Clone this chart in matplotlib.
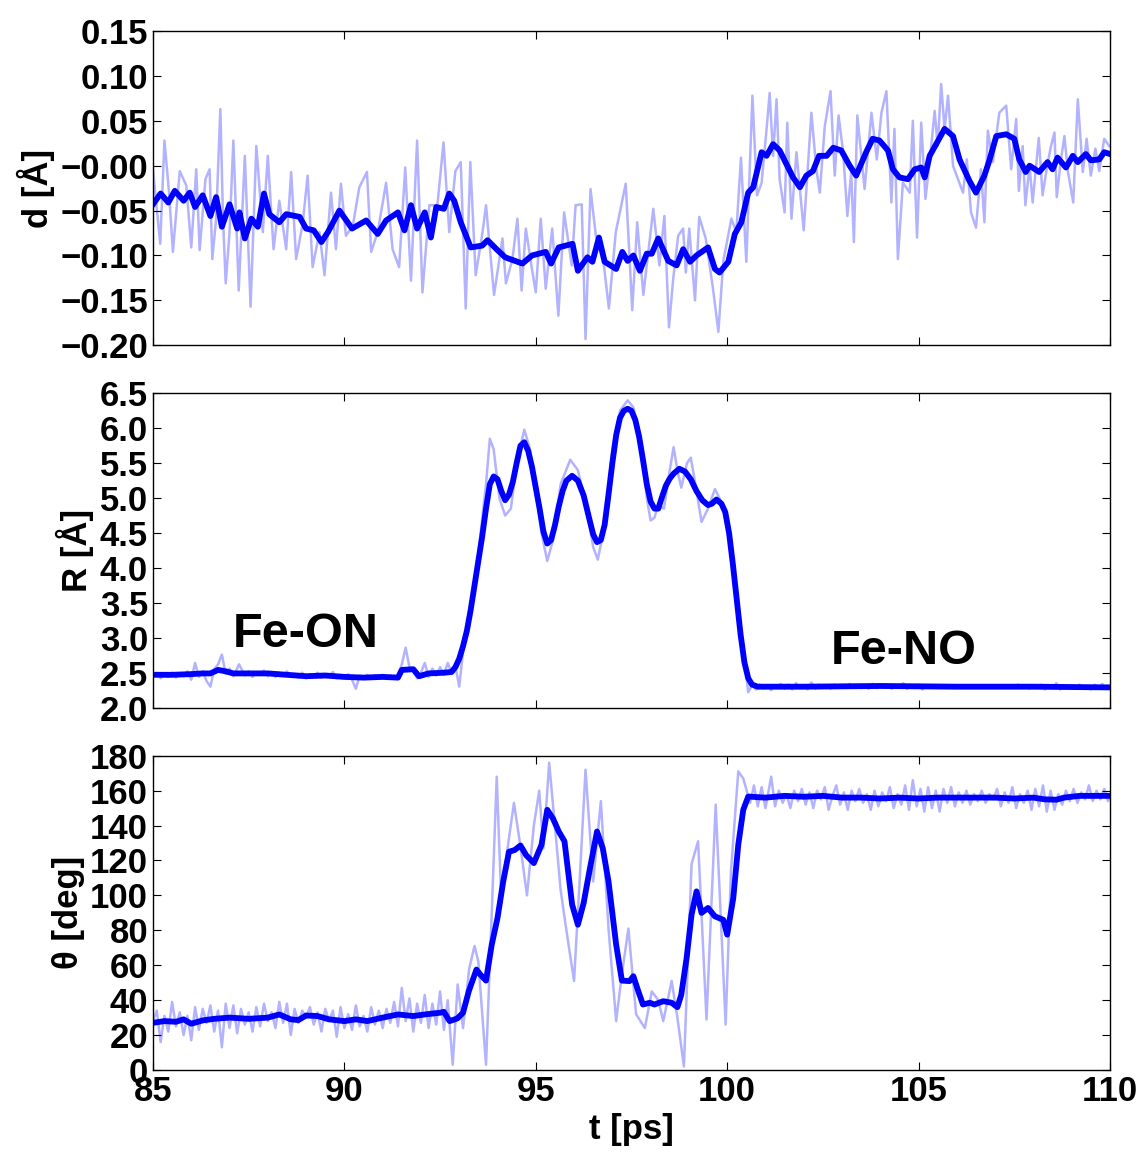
import numpy as np
import matplotlib
matplotlib.use("Agg")
import matplotlib.pyplot as plt

plt.rcParams['font.family'] = ['Liberation Sans', 'DejaVu Sans']
plt.rcParams['font.weight'] = 'bold'
plt.rcParams['font.size'] = 25

# ---- panel 1: d [A] ----
d_smooth = [
    (85.00, -0.043), (85.20, -0.031), (85.40, -0.041), (85.57, -0.028), (85.80, -0.039),
    (85.96, -0.030), (86.10, -0.046), (86.30, -0.033), (86.50, -0.056), (86.65, -0.035),
    (86.80, -0.068), (87.00, -0.043), (87.20, -0.070), (87.26, -0.052), (87.40, -0.081),
    (87.57, -0.059), (87.74, -0.068), (87.90, -0.031), (88.04, -0.054), (88.30, -0.063),
    (88.48, -0.054), (88.83, -0.057), (89.00, -0.070), (89.20, -0.072), (89.40, -0.085),
    (89.57, -0.074), (89.87, -0.050), (90.20, -0.070), (90.57, -0.061), (90.87, -0.076),
    (91.09, -0.061), (91.40, -0.052), (91.57, -0.072), (91.74, -0.044), (91.90, -0.070),
    (92.10, -0.052), (92.26, -0.080), (92.40, -0.046), (92.60, -0.048), (92.74, -0.031),
    (92.87, -0.039), (93.04, -0.063), (93.30, -0.091), (93.60, -0.089), (93.74, -0.083),
    (94.00, -0.094), (94.20, -0.102), (94.65, -0.109), (94.90, -0.100), (95.26, -0.096),
    (95.40, -0.109), (95.60, -0.091), (95.96, -0.087), (96.10, -0.117), (96.35, -0.102),
    (96.48, -0.107), (96.65, -0.080), (96.80, -0.107), (97.10, -0.115), (97.26, -0.096),
    (97.40, -0.106), (97.55, -0.100), (97.72, -0.117), (97.90, -0.098), (98.03, -0.098),
    (98.20, -0.081), (98.46, -0.106), (98.68, -0.111), (98.85, -0.093), (99.03, -0.107),
    (99.20, -0.100), (99.50, -0.091), (99.68, -0.115), (99.80, -0.119), (100.03, -0.107),
    (100.20, -0.076), (100.37, -0.063), (100.55, -0.030), (100.68, -0.024), (100.90, 0.015),
    (101.03, 0.011), (101.20, 0.024), (101.37, 0.017), (101.72, -0.013), (101.90, -0.024),
    (102.07, -0.011), (102.24, -0.006), (102.40, 0.011), (102.60, 0.011), (102.77, 0.020),
    (102.98, 0.017), (103.20, 0.000), (103.37, -0.011), (103.63, 0.015), (103.80, 0.030),
    (103.98, 0.028), (104.20, 0.017), (104.33, -0.004), (104.50, -0.013), (104.72, -0.015),
    (104.90, -0.004), (105.07, -0.002), (105.16, -0.013), (105.29, 0.011), (105.46, 0.024),
    (105.68, 0.041), (105.90, 0.033), (106.07, 0.007), (106.33, -0.017), (106.50, -0.030),
    (106.72, -0.011), (106.85, 0.006), (107.03, 0.033), (107.29, 0.035), (107.50, 0.030),
    (107.63, 0.007), (107.80, -0.007), (107.90, 0.000), (108.15, -0.007), (108.37, 0.004),
    (108.50, -0.004), (108.63, 0.009), (108.85, -0.002), (109.03, 0.011), (109.16, 0.004),
    (109.37, 0.013), (109.50, 0.006), (109.72, 0.007), (109.85, 0.015), (110.00, 0.013),
]
d_raw = [
    (85.00, -0.004), (85.09, -0.044), (85.19, -0.087), (85.30, 0.028), (85.42, -0.030),
    (85.52, -0.096), (85.70, -0.006), (85.87, -0.022), (86.00, -0.091), (86.13, -0.004),
    (86.22, -0.094), (86.37, -0.015), (86.48, -0.004), (86.55, -0.104), (86.65, -0.059),
    (86.76, 0.063), (86.83, -0.059), (86.90, -0.131), (87.00, -0.074), (87.10, 0.028),
    (87.24, -0.139), (87.40, 0.011), (87.55, -0.157), (87.70, 0.022), (87.87, -0.074),
    (88.00, 0.011), (88.15, -0.093), (88.30, -0.039), (88.48, -0.093), (88.61, -0.007),
    (88.74, -0.104), (88.91, -0.065), (89.04, -0.011), (89.17, -0.113), (89.35, -0.074),
    (89.48, -0.122), (89.65, -0.030), (89.78, -0.093), (89.91, -0.020), (90.04, -0.078),
    (90.22, -0.067), (90.39, -0.024), (90.59, -0.007), (90.70, -0.096), (90.87, -0.074),
    (91.09, -0.019), (91.26, -0.093), (91.43, -0.113), (91.59, -0.002), (91.74, -0.128),
    (91.90, 0.028), (92.04, -0.141), (92.22, -0.044), (92.43, -0.044), (92.59, 0.026),
    (92.74, -0.074), (92.90, -0.006), (93.04, 0.004), (93.17, -0.159), (93.29, 0.004),
    (93.43, -0.122), (93.61, -0.074), (93.70, -0.044), (93.91, -0.144), (94.13, -0.081),
    (94.22, -0.131), (94.39, -0.104), (94.52, -0.059), (94.63, -0.139), (94.74, -0.070),
    (94.90, -0.115), (95.00, -0.141), (95.13, -0.059), (95.26, -0.137), (95.43, -0.070),
    (95.59, -0.167), (95.74, -0.052), (95.94, -0.111), (96.04, -0.044), (96.20, -0.043),
    (96.30, -0.193), (96.43, -0.026), (96.57, -0.078), (96.78, -0.111), (96.91, -0.159),
    (97.09, -0.074), (97.35, -0.020), (97.52, -0.161), (97.65, -0.063), (97.81, -0.144),
    (97.94, -0.096), (98.07, -0.048), (98.23, -0.111), (98.36, -0.056), (98.48, -0.180),
    (98.59, -0.126), (98.72, -0.078), (98.85, -0.070), (98.92, -0.119), (99.01, -0.070),
    (99.16, -0.150), (99.27, -0.057), (99.44, -0.081), (99.63, -0.137), (99.77, -0.185),
    (99.90, -0.106), (100.11, -0.059), (100.24, -0.074), (100.36, 0.009), (100.50, -0.107),
    (100.66, 0.078), (100.78, -0.033), (100.90, -0.019), (101.03, 0.041), (101.11, 0.081),
    (101.20, 0.011), (101.29, 0.074), (101.37, -0.015), (101.50, -0.052), (101.57, 0.048),
    (101.68, -0.059), (101.81, 0.015), (102.00, -0.072), (102.20, 0.059), (102.33, -0.004),
    (102.42, -0.030), (102.55, 0.044), (102.70, 0.083), (102.81, -0.011), (102.91, 0.056),
    (103.03, 0.015), (103.14, -0.056), (103.24, -0.007), (103.31, -0.085), (103.40, 0.056),
    (103.59, -0.026), (103.77, 0.059), (103.91, 0.007), (104.03, 0.059), (104.16, 0.083),
    (104.29, -0.041), (104.37, 0.041), (104.46, -0.104), (104.59, -0.019), (104.77, -0.030),
    (104.85, 0.050), (104.96, -0.080), (105.07, 0.048), (105.18, -0.037), (105.29, 0.004),
    (105.42, 0.061), (105.50, 0.022), (105.59, 0.091), (105.68, 0.041), (105.77, 0.078),
    (105.90, 0.000), (106.03, -0.015), (106.16, -0.030), (106.26, 0.007), (106.37, -0.052),
    (106.50, -0.069), (106.63, -0.004), (106.72, -0.063), (106.81, 0.039), (106.94, 0.004),
    (107.11, 0.059), (107.29, 0.067), (107.42, -0.004), (107.55, 0.052), (107.62, -0.028),
    (107.72, 0.022), (107.79, -0.044), (107.90, 0.000), (107.98, -0.041), (108.14, 0.031),
    (108.24, -0.033), (108.36, 0.000), (108.46, 0.022), (108.55, 0.037), (108.61, -0.035),
    (108.72, 0.007), (108.81, 0.033), (108.90, -0.006), (109.04, -0.041), (109.16, 0.074),
    (109.29, -0.007), (109.39, 0.030), (109.50, -0.011), (109.62, 0.019), (109.72, -0.006),
    (109.85, 0.030), (109.98, 0.022),
]

# ---- panel 2: R [A] ----
r_smooth = [
    (85.0, 2.47), (85.5, 2.47), (86.0, 2.48), (86.3, 2.49), (86.5, 2.49), (86.7, 2.54),
    (86.9, 2.52), (87.1, 2.49), (88.0, 2.49), (88.5, 2.47), (89.0, 2.45), (89.5, 2.46),
    (90.0, 2.44), (90.5, 2.43), (91.0, 2.44), (91.4, 2.43), (91.5, 2.54), (91.8, 2.55),
    (91.95, 2.45), (92.2, 2.49), (92.6, 2.50), (92.8, 2.51), (92.9, 2.58), (93.0, 2.70),
    (93.1, 2.88), (93.2, 3.10), (93.3, 3.40), (93.4, 3.75), (93.5, 4.10), (93.6, 4.45),
    (93.7, 4.85), (93.8, 5.20), (93.9, 5.31), (94.0, 5.27), (94.1, 5.10), (94.2, 4.97),
    (94.3, 5.05), (94.4, 5.23), (94.5, 5.50), (94.6, 5.75), (94.7, 5.80), (94.8, 5.68),
    (94.9, 5.45), (95.0, 5.15), (95.1, 4.85), (95.2, 4.52), (95.3, 4.35), (95.4, 4.40),
    (95.5, 4.61), (95.6, 4.88), (95.7, 5.10), (95.8, 5.25), (95.95, 5.32), (96.1, 5.25),
    (96.25, 5.04), (96.4, 4.70), (96.5, 4.48), (96.6, 4.37), (96.7, 4.40), (96.8, 4.62),
    (96.9, 5.05), (97.0, 5.50), (97.1, 5.90), (97.2, 6.15), (97.3, 6.25), (97.4, 6.28),
    (97.5, 6.25), (97.6, 6.12), (97.7, 5.88), (97.8, 5.55), (97.9, 5.20), (98.0, 4.95),
    (98.1, 4.85), (98.2, 4.85), (98.3, 5.02), (98.4, 5.18), (98.5, 5.28), (98.6, 5.35),
    (98.75, 5.42), (98.9, 5.38), (99.05, 5.27), (99.2, 5.10), (99.35, 4.97), (99.5, 4.90),
    (99.6, 4.92), (99.72, 4.98), (99.85, 4.92), (99.95, 4.80), (100.05, 4.50), (100.15, 4.05),
    (100.25, 3.55), (100.35, 3.05), (100.45, 2.65), (100.55, 2.42), (100.65, 2.33),
    (100.8, 2.30), (102.0, 2.30), (104.0, 2.31), (106.0, 2.30), (108.0, 2.30), (110.0, 2.29),
]
r_raw = [
    (85.0, 2.45), (85.1, 2.50), (85.2, 2.42), (85.3, 2.49), (85.4, 2.44), (85.5, 2.50),
    (85.6, 2.43), (85.7, 2.48), (85.8, 2.45), (85.9, 2.52), (86.0, 2.40), (86.1, 2.64),
    (86.2, 2.44), (86.3, 2.52), (86.4, 2.38), (86.5, 2.30), (86.6, 2.55), (86.7, 2.62),
    (86.8, 2.76), (86.9, 2.48), (87.0, 2.56), (87.1, 2.45), (87.25, 2.62), (87.4, 2.46),
    (87.5, 2.52), (87.6, 2.44), (87.7, 2.50), (87.8, 2.47), (87.9, 2.53), (88.0, 2.45),
    (88.1, 2.51), (88.2, 2.44), (88.3, 2.50), (88.4, 2.46), (88.5, 2.52), (88.6, 2.44),
    (88.7, 2.48), (88.8, 2.43), (88.9, 2.50), (89.0, 2.42), (89.1, 2.48), (89.2, 2.45),
    (89.3, 2.50), (89.4, 2.43), (89.5, 2.48), (89.6, 2.45), (89.7, 2.51), (89.8, 2.42),
    (89.9, 2.47), (90.0, 2.44), (90.1, 2.48), (90.2, 2.40), (90.3, 2.27), (90.4, 2.46),
    (90.5, 2.42), (90.6, 2.47), (90.7, 2.41), (90.8, 2.46), (90.9, 2.43), (91.0, 2.47),
    (91.1, 2.41), (91.2, 2.46), (91.3, 2.42), (91.4, 2.45), (91.5, 2.62), (91.6, 2.86),
    (91.7, 2.58), (91.8, 2.52), (91.9, 2.42), (92.0, 2.50), (92.1, 2.64), (92.2, 2.44),
    (92.3, 2.56), (92.4, 2.46), (92.5, 2.58), (92.6, 2.47), (92.7, 2.64), (92.8, 2.50),
    (92.9, 2.60), (93.0, 2.30), (93.1, 2.80), (93.3, 3.40), (93.5, 4.20), (93.7, 5.20),
    (93.8, 5.85), (93.9, 5.70), (94.05, 5.00), (94.2, 4.75), (94.35, 4.85), (94.5, 5.50),
    (94.7, 5.98), (94.85, 5.70), (95.0, 5.10), (95.15, 4.50), (95.3, 4.10), (95.45, 4.40),
    (95.65, 5.20), (95.9, 5.55), (96.1, 5.40), (96.3, 4.95), (96.5, 4.30), (96.62, 4.12),
    (96.8, 4.60), (97.0, 5.70), (97.2, 6.25), (97.4, 6.40), (97.55, 6.30), (97.75, 5.80),
    (97.9, 5.00), (98.0, 4.68), (98.1, 4.72), (98.2, 4.90), (98.35, 4.85), (98.5, 5.40),
    (98.6, 5.73), (98.7, 5.40), (98.8, 5.15), (98.95, 5.50), (99.05, 5.58), (99.2, 5.10),
    (99.33, 4.66), (99.5, 4.85), (99.68, 5.13), (99.8, 5.00), (99.9, 4.85), (100.05, 4.40),
    (100.2, 3.80), (100.35, 3.10), (100.48, 2.55), (100.55, 2.22), (100.65, 2.32),
    (100.75, 2.26), (100.85, 2.33), (100.95, 2.27), (101.05, 2.31), (101.15, 2.25),
    (101.25, 2.32), (101.3, 2.29), (101.4, 2.34), (101.5, 2.27), (101.6, 2.33), (101.7, 2.26),
    (101.8, 2.35), (101.9, 2.28), (102.0, 2.31), (102.1, 2.26), (102.2, 2.36), (102.3, 2.27),
    (102.4, 2.33), (102.5, 2.29), (102.6, 2.31), (102.7, 2.27), (102.8, 2.33), (102.9, 2.29),
    (103.0, 2.31), (103.1, 2.28), (103.2, 2.34), (103.3, 2.29), (103.4, 2.32), (103.5, 2.28),
    (103.6, 2.30), (103.7, 2.27), (103.8, 2.34), (103.9, 2.28), (104.0, 2.31), (104.1, 2.29),
    (104.2, 2.33), (104.3, 2.27), (104.4, 2.31), (104.5, 2.29), (104.6, 2.35), (104.7, 2.27),
    (104.8, 2.32), (104.9, 2.28), (105.0, 2.33), (105.1, 2.26), (105.2, 2.32), (105.3, 2.29),
    (105.4, 2.31), (105.5, 2.28), (105.6, 2.30), (105.7, 2.29), (105.8, 2.32), (105.9, 2.28),
    (106.0, 2.30), (106.1, 2.29), (106.2, 2.31), (106.3, 2.28), (106.4, 2.30), (106.5, 2.29),
    (106.6, 2.31), (106.7, 2.28), (106.8, 2.30), (106.9, 2.29), (107.0, 2.31), (107.1, 2.28),
    (107.2, 2.30), (107.3, 2.29), (107.4, 2.31), (107.5, 2.28), (107.6, 2.33), (107.7, 2.29),
    (107.8, 2.32), (107.9, 2.27), (108.0, 2.31), (108.1, 2.28), (108.2, 2.33), (108.3, 2.26),
    (108.4, 2.32), (108.5, 2.28), (108.6, 2.35), (108.7, 2.26), (108.8, 2.31), (108.9, 2.28),
    (109.0, 2.30), (109.1, 2.27), (109.2, 2.33), (109.3, 2.28), (109.4, 2.31), (109.5, 2.26),
    (109.6, 2.33), (109.7, 2.28), (109.8, 2.34), (109.9, 2.27), (110.0, 2.30),
]

# ---- panel 3: theta [deg] ----
th_smooth = [
    (85.0, 27.0), (85.3, 28.0), (85.6, 27.6), (85.8, 29.0), (86.0, 26.5), (86.3, 28.4),
    (86.6, 29.3), (87.0, 30.0), (87.5, 29.3), (88.0, 30.0), (88.3, 31.8), (88.6, 29.0),
    (88.8, 28.6), (89.0, 31.2), (89.3, 30.9), (89.6, 29.0), (90.0, 28.0), (90.3, 29.0),
    (90.6, 28.0), (91.0, 30.0), (91.4, 31.8), (91.8, 30.9), (92.1, 31.8), (92.5, 32.8),
    (92.6, 33.3), (92.75, 28.0), (92.95, 29.5), (93.1, 32.8), (93.25, 45.1), (93.45, 57.5),
    (93.55, 54.7), (93.7, 51.2), (93.85, 71.8), (94.0, 87.0), (94.15, 108.0), (94.3, 125.0),
    (94.45, 126.0), (94.6, 128.6), (94.75, 123.0), (94.95, 118.5), (95.15, 129.0),
    (95.3, 149.0), (95.45, 144.0), (95.6, 136.6), (95.75, 131.0), (95.95, 94.7),
    (96.1, 83.2), (96.25, 95.6), (96.4, 113.7), (96.6, 136.6), (96.75, 127.0),
    (96.9, 108.0), (97.1, 71.8), (97.25, 51.2), (97.45, 50.9), (97.55, 53.7), (97.68, 45.0),
    (97.8, 37.5), (97.98, 38.5), (98.1, 37.5), (98.33, 39.4), (98.55, 38.5), (98.7, 36.0),
    (98.8, 43.0), (98.94, 64.0), (99.07, 89.0), (99.2, 102.3), (99.33, 90.0), (99.5, 92.8),
    (99.68, 88.0), (99.9, 86.0), (100.0, 77.5), (100.16, 98.5), (100.29, 129.0),
    (100.42, 149.0), (100.55, 156.6), (101.0, 156.0), (101.5, 157.0), (102.0, 156.5),
    (102.5, 157.0), (103.0, 156.0), (103.5, 156.0), (104.0, 155.5), (104.5, 156.0),
    (105.0, 155.5), (105.5, 156.0), (106.0, 156.0), (106.5, 156.0), (107.0, 156.0),
    (107.5, 155.5), (108.0, 156.0), (108.3, 155.0), (108.6, 154.8), (108.8, 156.0),
    (109.2, 157.0), (109.6, 157.0), (110.0, 157.0),
]
th_raw = [
    (85.0, 28), (85.1, 34), (85.2, 16), (85.3, 31), (85.4, 22), (85.5, 39), (85.6, 25),
    (85.7, 33), (85.8, 20), (85.9, 31), (86.0, 17), (86.1, 36), (86.2, 23), (86.3, 35),
    (86.4, 27), (86.5, 37), (86.6, 22), (86.7, 34), (86.8, 13), (86.9, 38), (87.0, 24),
    (87.1, 37), (87.2, 21), (87.3, 35), (87.4, 26), (87.5, 33), (87.6, 22), (87.7, 36),
    (87.8, 25), (87.9, 38), (88.0, 28), (88.1, 33), (88.2, 24), (88.3, 39), (88.4, 27),
    (88.5, 38), (88.6, 20), (88.7, 35), (88.8, 27), (88.9, 34), (89.0, 30), (89.1, 36),
    (89.2, 26), (89.3, 33), (89.4, 22), (89.5, 35), (89.6, 28), (89.7, 34), (89.8, 19),
    (89.9, 36), (90.0, 24), (90.1, 32), (90.2, 23), (90.3, 37), (90.4, 25), (90.5, 31),
    (90.6, 22), (90.7, 36), (90.8, 26), (90.9, 34), (91.0, 24), (91.1, 35), (91.2, 27),
    (91.3, 39), (91.4, 25), (91.5, 47), (91.6, 28), (91.7, 41), (91.8, 22), (91.9, 38),
    (92.0, 27), (92.1, 43), (92.2, 24), (92.3, 38), (92.4, 26), (92.5, 45), (92.6, 23),
    (92.7, 40), (92.83, 3), (92.96, 49), (93.1, 24), (93.26, 58), (93.4, 71), (93.5, 62),
    (93.7, 3), (93.85, 90), (93.98, 168), (94.1, 96), (94.25, 125), (94.43, 153),
    (94.6, 128), (94.77, 100), (94.95, 140), (95.09, 160), (95.2, 127), (95.35, 176),
    (95.5, 140), (95.65, 103), (95.8, 80), (96.0, 51), (96.15, 110), (96.3, 172),
    (96.5, 108), (96.7, 154), (96.9, 81), (97.1, 28), (97.25, 55), (97.42, 81),
    (97.62, 32), (97.85, 24), (98.03, 45), (98.2, 40), (98.33, 28), (98.55, 51),
    (98.7, 30), (98.87, 2), (99.07, 118), (99.24, 131), (99.46, 29), (99.7, 152),
    (99.96, 26), (100.1, 114), (100.29, 171), (100.42, 167), (100.6, 153), (100.7, 163),
    (100.8, 151), (100.9, 162), (101.0, 150), (101.15, 168), (101.25, 151), (101.35, 160),
    (101.45, 153), (101.55, 158), (101.65, 150), (101.75, 160), (101.85, 154), (101.95, 161),
    (102.05, 152), (102.15, 159), (102.25, 150), (102.35, 160), (102.45, 155), (102.55, 162),
    (102.65, 149), (102.75, 157), (102.85, 163), (102.95, 152), (103.05, 159), (103.15, 149),
    (103.25, 160), (103.35, 154), (103.45, 161), (103.55, 153), (103.65, 158), (103.75, 149),
    (103.85, 160), (103.95, 151), (104.05, 159), (104.15, 154), (104.25, 162), (104.35, 150),
    (104.45, 158), (104.55, 152), (104.65, 163), (104.75, 149), (104.85, 166), (104.95, 151),
    (105.05, 161), (105.15, 148), (105.25, 162), (105.35, 150), (105.45, 160), (105.55, 148),
    (105.65, 161), (105.75, 153), (105.85, 162), (105.95, 151), (106.05, 159), (106.15, 153),
    (106.25, 160), (106.35, 152), (106.45, 158), (106.55, 154), (106.65, 160), (106.75, 153),
    (106.85, 158), (106.95, 155), (107.05, 161), (107.15, 151), (107.25, 159), (107.35, 153),
    (107.45, 162), (107.55, 150), (107.65, 158), (107.75, 153), (107.85, 160), (107.95, 149),
    (108.05, 161), (108.15, 151), (108.25, 163), (108.35, 148), (108.45, 160), (108.55, 149),
    (108.65, 158), (108.75, 152), (108.85, 160), (108.95, 154), (109.05, 161), (109.15, 153),
    (109.25, 159), (109.35, 155), (109.45, 163), (109.55, 154), (109.65, 160), (109.75, 155),
    (109.85, 161), (109.95, 154), (110.0, 157),
]

panels = [
    (d_raw, d_smooth, 'd [Å]', (-0.20, 0.15), np.arange(-0.20, 0.151, 0.05), '%.2f'),
    (r_raw, r_smooth, 'R [Å]', (2.0, 6.5), np.arange(2.0, 6.51, 0.5), '%.1f'),
    (th_raw, th_smooth, 'θ [deg]', (0, 180), np.arange(0, 181, 20), '%d'),
]

fig, axes = plt.subplots(3, 1, figsize=(11.45, 11.53), dpi=100, sharex=True)
fig.subplots_adjust(left=0.1336, right=0.9694, bottom=0.072, top=0.9731, hspace=0.153)

for ax, (raw, smooth, lab, ylim, yt, fmt) in zip(axes, panels):
    t_r, v_r = np.array(raw).T
    t_s, v_s = np.array(smooth).T
    ax.plot(t_r, v_r, color='blue', alpha=0.3, lw=1.8)
    ax.plot(t_s, v_s, color='blue', lw=4.2)
    ax.set_xlim(85, 110)
    ax.set_ylim(*ylim)
    ax.set_yticks(yt)
    ax.set_yticklabels([(fmt % v).replace('-', '\u2212') for v in yt])
    ax.set_ylabel(lab, fontweight='bold')
    ax.tick_params(direction='in', top=True, right=True, length=6, width=0.8)
    for s in ax.spines.values():
        s.set_linewidth(1.0)

axes[2].set_xticks([85, 90, 95, 100, 105, 110])
axes[2].set_xlabel('t [ps]', fontweight='bold')

axes[1].text(89.0, 3.05, 'Fe-ON', fontsize=35, fontweight='bold', ha='center', va='center')
axes[1].text(104.6, 2.80, 'Fe-NO', fontsize=35, fontweight='bold', ha='center', va='center')

fig.savefig('out.png', dpi=100)
